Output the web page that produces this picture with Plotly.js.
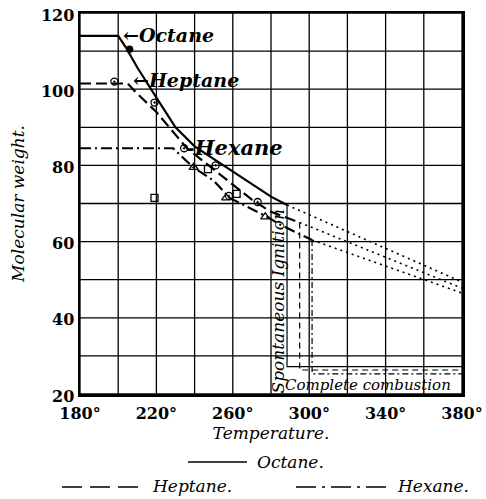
<!DOCTYPE html>
<html><head><meta charset="utf-8">
<script src="https://cdn.plot.ly/plotly-3.0.1.min.js"></script>
<style>html,body{margin:0;padding:0;background:#fff}#chart{width:486px;height:499px}</style>
</head><body><div id="chart"></div>
<script>
// ---- data ----
const xGridVals = [180, 200, 220, 240, 260, 280, 300, 320, 340, 360, 380];
const xTickVals = [180, 220, 260, 300, 340, 380];
const yGridVals = [20, 30, 40, 50, 60, 70, 80, 90, 100, 110, 120];
const yTickVals = [20, 40, 60, 80, 100, 120];

const octaneT = [180, 200, 204, 210, 220, 230, 240, 250, 260, 270, 280, 288.4];
const octaneM = [114, 114, 111, 105.7, 97.8, 90, 85, 81.7, 78.5, 75.2, 71.8, 69.6];
const octaneDropT = [288.4, 288.4, 380];
const octaneDropM = [69.6, 27.2, 27.2];
const octaneExtT = [288.4, 380];
const octaneExtM = [69.6, 49.4];

const heptaneT = [180, 205, 209, 220, 236, 250, 260, 270, 280, 295];
const heptaneM = [101.5, 101.5, 99.3, 94, 84.5, 79, 75, 71, 67.8, 65];
const heptaneDropT = [295, 295, 380];
const heptaneDropM = [65, 26.3, 26.3];
const heptaneExtT = [295, 380];
const heptaneExtM = [65, 47.8];

const hexaneT = [180, 228.7, 239, 250, 258.5, 268, 278, 285, 301.5];
const hexaneM = [84.5, 84.5, 79.6, 76, 71.4, 69, 66.5, 64.4, 60.4];
const hexaneDropT = [301.5, 301.5, 380];
const hexaneDropM = [60.4, 25.3, 25.3];
const hexaneExtT = [301.5, 380];
const hexaneExtM = [60.4, 46.5];

const dotPtsT = [206];          const dotPtsM = [110.5];
const circPtsT = [198, 219, 234.5, 251, 258, 273];
const circPtsM = [102, 96.5, 84.5, 80, 72, 70.4];
const sqPtsT = [219, 247, 262];  const sqPtsM = [71.5, 79, 72.5];
const triPtsT = [239.5, 256.5, 277]; const triPtsM = [79.5, 71.5, 66.5];

const curveLabels = ["←Octane", "←Heptane", "-Hexane"];
const curveLabelT = [201.5, 206.5, 234.5];
const curveLabelM = [114.3, 102.3, 84.7];
const curveLabelSize = [19, 19, 21];

// ---- styles ----
const SERIF = "DejaVu Serif, Liberation Serif, serif";
const HEPT_DASH = "11px,5px";
const HEX_DASH = "11px,4px,2px,4px";

function line(x, y, dash, w) {
  return {x: x, y: y, type: "scatter", mode: "lines", showlegend: false, hoverinfo: "skip",
          line: {color: "#000", width: w, dash: dash}};
}
function pts(x, y, sym, size) {
  return {x: x, y: y, type: "scatter", mode: "markers", showlegend: false, hoverinfo: "skip",
          marker: {symbol: sym, size: size, color: "#000", line: {color: "#000", width: 1.3}}};
}

const traces = [
  line(octaneT, octaneM, "solid", 2.2),
  line(octaneDropT, octaneDropM, "solid", 1.2),
  line(octaneExtT, octaneExtM, "2px,4px", 1.6),
  line(heptaneT, heptaneM, HEPT_DASH, 2.2),
  line(heptaneDropT, heptaneDropM, "6px,4px", 1.2),
  line(heptaneExtT, heptaneExtM, "2px,4px", 1.6),
  line(hexaneT, hexaneM, HEX_DASH, 2.2),
  line(hexaneDropT, hexaneDropM, "6px,3px,2px,3px", 1.2),
  line(hexaneExtT, hexaneExtM, "2px,4px", 1.6),
  pts(dotPtsT, dotPtsM, "circle", 6),
  pts(circPtsT, circPtsM, "circle-open-dot", 7),
  pts(sqPtsT, sqPtsM, "square-open", 7),
  pts(triPtsT, triPtsM, "triangle-up-open", 8)
];

// paper coords helpers for the legend below the plot (plot: x 80..462, y 13..394)
const PX = px => (px - 80) / 382;
const PY = py => (394 - py) / 381;

const annotations = curveLabels.map((t, i) => ({
  x: curveLabelT[i], y: curveLabelM[i], xref: "x", yref: "y", text: t, showarrow: false,
  xanchor: "left", yanchor: "middle",
  font: {family: SERIF, size: curveLabelSize[i], color: "#000", style: "italic", weight: "bold"}
}));
annotations.push(
  {x: 283.5, y: 44.2, xref: "x", yref: "y", text: "Spontaneous Ignition", textangle: -90,
   xanchor: "center", yanchor: "middle",
   showarrow: false, font: {family: SERIF, size: 17, style: "italic", color: "#000"}},
  {x: 331, y: 22.4, xref: "x", yref: "y", text: "Complete combustion", showarrow: false,
   xanchor: "center", yanchor: "middle",
   font: {family: SERIF, size: 15, style: "italic", color: "#000"}},
  {x: PX(255), y: PY(462), xref: "paper", yref: "paper", text: "Octane.", showarrow: false,
   xanchor: "left", yanchor: "middle",
   font: {family: SERIF, size: 17, style: "italic", color: "#000"}},
  {x: PX(150), y: PY(486), xref: "paper", yref: "paper", text: "Heptane.", showarrow: false,
   xanchor: "left", yanchor: "middle",
   font: {family: SERIF, size: 17, style: "italic", color: "#000"}},
  {x: PX(395), y: PY(486), xref: "paper", yref: "paper", text: "Hexane.", showarrow: false,
   xanchor: "left", yanchor: "middle",
   font: {family: SERIF, size: 17, style: "italic", color: "#000"}}
);

// grid drawn through the axis scales
const gridShapes = [];
xGridVals.forEach(v => gridShapes.push({type: "line", xref: "x", yref: "paper", x0: v, x1: v, y0: 0, y1: 1,
  layer: "below", line: {color: "#000", width: 1.3}}));
yGridVals.forEach(v => gridShapes.push({type: "line", xref: "paper", yref: "y", x0: 0, x1: 1, y0: v, y1: v,
  layer: "below", line: {color: "#000", width: 1.3}}));

const shapes = gridShapes.concat([
  {type: "line", xref: "paper", yref: "paper", x0: PX(188), x1: PX(247), y0: PY(462), y1: PY(462),
   line: {color: "#000", width: 1.5}},
  {type: "line", xref: "paper", yref: "paper", x0: PX(62), x1: PX(140), y0: PY(487), y1: PY(487),
   line: {color: "#000", width: 1.5, dash: "20px,8px"}},
  {type: "line", xref: "paper", yref: "paper", x0: PX(296), x1: PX(386), y0: PY(487), y1: PY(487),
   line: {color: "#000", width: 1.5, dash: "20px,6px,3px,6px"}}
]);

const layout = {
  width: 486, height: 499,
  margin: {l: 80, r: 24, t: 13, b: 105},
  paper_bgcolor: "#fff", plot_bgcolor: "#fff",
  showlegend: false,
  xaxis: {
    range: [180, 380], tickmode: "array", tickvals: xTickVals,
    ticktext: xTickVals.map(v => v + "°"),
    showgrid: false,
    showline: true, linecolor: "black", linewidth: 2.5, mirror: true,
    ticks: "", zeroline: false, ticklabelstandoff: 3,
    tickfont: {family: SERIF, size: 16, color: "#000", weight: "bold"},
    title: {text: "Temperature.", standoff: 5,
            font: {family: SERIF, size: 17, style: "italic", color: "#000"}}
  },
  yaxis: {
    range: [20, 120], tickmode: "array", tickvals: yTickVals,
    ticktext: yTickVals.map(v => String(v)),
    showgrid: false,
    showline: true, linecolor: "black", linewidth: 2.5, mirror: true,
    ticks: "", zeroline: false, ticklabelshift: 2,
    tickfont: {family: SERIF, size: 16, color: "#000", weight: "bold"},
    title: {text: "Molecular weight.", standoff: 12,
            font: {family: SERIF, size: 17, style: "italic", color: "#000"}}
  },
  annotations: annotations,
  shapes: shapes
};

Plotly.newPlot("chart", traces, layout, {staticPlot: true, displayModeBar: false});
</script></body></html>
